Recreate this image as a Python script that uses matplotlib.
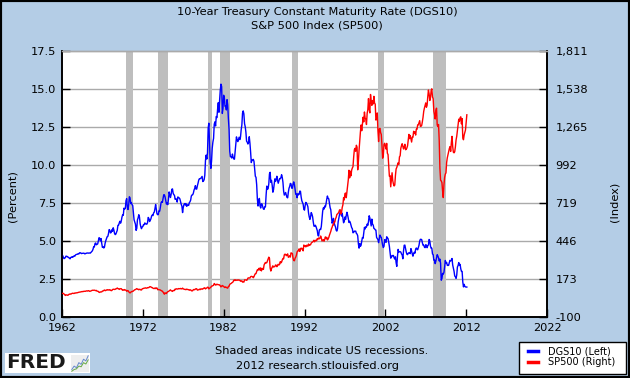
import numpy as np
import matplotlib
matplotlib.use("Agg")
import matplotlib.pyplot as plt
from matplotlib.patches import Rectangle
from matplotlib.lines import Line2D
from matplotlib.ticker import FuncFormatter

# monthly values, Jan 1962 .. Feb 2012
start_year = 1962

dgs10 = [
    4.08, 4.04, 3.93, 3.84, 3.87, 3.91, 4.01, 3.98, 3.98, 3.93, 3.92, 3.86,
    3.83, 3.92, 3.93, 3.97, 3.93, 3.99, 4.02, 4.00, 4.08, 4.11, 4.12, 4.13,
    4.17, 4.15, 4.22, 4.23, 4.20, 4.17, 4.19, 4.19, 4.20, 4.19, 4.15, 4.18,
    4.19, 4.21, 4.21, 4.20, 4.21, 4.21, 4.20, 4.25, 4.29, 4.35, 4.45, 4.62,
    4.61, 4.83, 4.87, 4.75, 4.78, 4.81, 5.02, 5.22, 5.18, 5.01, 5.16, 4.84,
    4.58, 4.63, 4.54, 4.59, 4.85, 5.02, 5.16, 5.28, 5.30, 5.48, 5.75, 5.70,
    5.53, 5.56, 5.74, 5.64, 5.87, 5.72, 5.50, 5.42, 5.46, 5.58, 5.70, 6.03,
    6.04, 6.19, 6.30, 6.17, 6.32, 6.57, 6.72, 6.69, 7.16, 7.10, 7.14, 7.65,
    7.79, 7.24, 7.07, 7.39, 7.91, 7.84, 7.46, 7.53, 7.39, 7.33, 6.84, 6.39,
    6.24, 6.11, 5.70, 5.83, 6.39, 6.52, 6.73, 6.58, 6.14, 5.93, 5.81, 5.93,
    5.95, 6.08, 6.07, 6.19, 6.13, 6.11, 6.11, 6.21, 6.55, 6.48, 6.28, 6.36,
    6.46, 6.64, 6.71, 6.67, 6.85, 6.90, 7.13, 7.40, 7.09, 6.79, 6.73, 6.74,
    6.99, 6.96, 7.21, 7.51, 7.58, 7.54, 7.81, 8.04, 8.04, 7.90, 7.68, 7.43,
    7.50, 7.39, 7.73, 8.23, 8.06, 7.86, 8.06, 8.40, 8.43, 8.14, 8.05, 8.00,
    7.74, 7.79, 7.73, 7.56, 7.90, 7.86, 7.83, 7.77, 7.59, 7.41, 7.29, 6.87,
    7.21, 7.39, 7.46, 7.37, 7.46, 7.28, 7.33, 7.40, 7.34, 7.52, 7.58, 7.69,
    7.96, 8.03, 8.04, 8.15, 8.35, 8.46, 8.64, 8.41, 8.42, 8.64, 8.81, 9.01,
    9.10, 9.10, 9.12, 9.18, 9.25, 8.91, 8.95, 9.03, 9.33, 10.30, 10.65, 10.39,
    10.80, 12.41, 12.75, 11.47, 10.18, 9.78, 10.25, 11.10, 11.51, 11.75, 12.68, 12.84,
    12.57, 13.19, 13.12, 13.68, 14.10, 13.47, 14.28, 14.94, 15.32, 15.15, 13.39, 13.72,
    14.59, 14.43, 13.86, 13.87, 13.62, 14.30, 13.95, 13.06, 12.34, 10.91, 10.55, 10.54,
    10.46, 10.72, 10.51, 10.40, 10.38, 10.85, 11.38, 11.85, 11.65, 11.54, 11.69, 11.83,
    11.67, 11.84, 12.32, 12.63, 13.41, 13.56, 13.36, 12.72, 12.52, 12.16, 11.57, 11.50,
    11.38, 11.51, 11.86, 11.43, 10.85, 10.16, 10.31, 10.33, 10.37, 10.24, 9.78, 9.26,
    9.19, 8.70, 7.78, 7.30, 7.71, 7.80, 7.30, 7.17, 7.45, 7.43, 7.25, 7.11,
    7.08, 7.25, 7.25, 8.02, 8.61, 8.40, 8.45, 8.76, 9.42, 9.52, 8.86, 8.99,
    8.67, 8.21, 8.37, 8.72, 9.09, 8.92, 9.06, 9.26, 8.98, 8.80, 8.96, 9.11,
    9.09, 9.17, 9.36, 9.18, 8.86, 8.28, 8.02, 8.11, 8.19, 8.01, 7.87, 7.84,
    8.21, 8.47, 8.59, 8.79, 8.76, 8.48, 8.47, 8.75, 8.89, 8.72, 8.39, 8.08,
    8.09, 7.85, 8.11, 8.04, 8.07, 8.28, 8.27, 7.90, 7.65, 7.53, 7.42, 7.09,
    7.03, 7.34, 7.54, 7.48, 7.39, 7.26, 6.84, 6.59, 6.42, 6.59, 6.87, 6.77,
    6.60, 6.26, 5.98, 5.97, 6.04, 5.96, 5.81, 5.68, 5.36, 5.33, 5.72, 5.77,
    5.75, 5.97, 6.48, 6.97, 7.18, 7.10, 7.30, 7.24, 7.46, 7.74, 7.96, 7.81,
    7.78, 7.47, 7.20, 7.06, 6.63, 6.17, 6.28, 6.49, 6.20, 6.04, 5.93, 5.71,
    5.65, 5.81, 6.27, 6.51, 6.74, 6.91, 6.87, 6.64, 6.83, 6.53, 6.20, 6.30,
    6.58, 6.42, 6.69, 6.89, 6.71, 6.49, 6.22, 6.30, 6.21, 6.03, 5.88, 5.81,
    5.54, 5.57, 5.65, 5.64, 5.65, 5.50, 5.46, 5.34, 4.81, 4.53, 4.83, 4.65,
    4.72, 5.00, 5.23, 5.18, 5.54, 5.90, 5.79, 5.94, 5.92, 6.11, 6.03, 6.28,
    6.66, 6.52, 6.26, 5.99, 6.44, 6.10, 6.05, 5.83, 5.80, 5.74, 5.72, 5.24,
    5.16, 5.10, 4.89, 5.14, 5.39, 5.28, 5.24, 4.97, 4.73, 4.57, 4.65, 5.09,
    5.04, 4.91, 5.28, 5.21, 5.16, 4.93, 4.65, 4.26, 3.87, 3.94, 4.05, 4.03,
    4.05, 3.90, 3.81, 3.96, 3.57, 3.33, 3.98, 4.45, 4.27, 4.29, 4.30, 4.27,
    4.15, 4.08, 3.83, 4.35, 4.72, 4.73, 4.50, 4.28, 4.13, 4.10, 4.19, 4.23,
    4.22, 4.17, 4.50, 4.34, 4.14, 4.00, 4.18, 4.26, 4.20, 4.46, 4.54, 4.47,
    4.42, 4.57, 4.72, 4.99, 5.11, 5.11, 5.09, 4.88, 4.72, 4.73, 4.60, 4.56,
    4.76, 4.72, 4.56, 4.69, 4.75, 5.10, 5.00, 4.67, 4.52, 4.53, 4.15, 4.10,
    3.74, 3.74, 3.51, 3.68, 3.88, 4.10, 4.01, 3.89, 3.69, 3.81, 3.53, 2.42,
    2.52, 2.87, 2.82, 2.93, 3.29, 3.72, 3.56, 3.59, 3.40, 3.39, 3.40, 3.59,
    3.73, 3.69, 3.73, 3.85, 3.42, 3.20, 3.01, 2.70, 2.65, 2.54, 2.76, 3.29,
    3.39, 3.58, 3.41, 3.46, 3.17, 3.00, 3.00, 2.30, 1.98, 2.15, 2.01, 1.98,
    1.97, 1.97,
]

sp500 = [
    68.8, 69.96, 69.55, 65.24, 59.63, 54.75, 58.23, 59.12, 56.27, 56.52, 62.26, 63.10,
    66.20, 64.29, 66.57, 69.80, 70.80, 69.37, 69.13, 72.50, 71.70, 74.01, 73.23, 75.02,
    77.04, 77.80, 78.98, 79.46, 80.37, 81.69, 83.18, 81.83, 84.18, 84.86, 84.42, 84.75,
    87.56, 87.43, 86.16, 89.11, 88.42, 84.12, 85.25, 87.17, 89.96, 92.42, 91.61, 92.43,
    92.88, 91.22, 89.23, 91.06, 86.13, 84.74, 83.60, 77.10, 76.56, 80.20, 80.45, 80.33,
    86.61, 86.78, 90.20, 94.01, 89.08, 90.64, 94.75, 93.64, 96.71, 93.90, 94.00, 96.47,
    92.24, 89.36, 90.20, 97.59, 98.68, 99.58, 97.74, 98.86, 102.67, 103.41, 108.37, 103.86,
    103.01, 98.13, 101.51, 103.69, 103.46, 97.71, 91.83, 95.51, 93.12, 97.24, 93.81, 92.06,
    85.02, 89.50, 89.63, 81.52, 76.55, 72.72, 78.05, 81.52, 84.21, 83.25, 87.20, 92.15,
    95.88, 96.75, 100.31, 103.95, 99.63, 99.70, 95.58, 99.03, 98.34, 94.23, 93.99, 102.09,
    103.94, 106.57, 107.20, 107.67, 109.53, 107.14, 107.39, 111.09, 110.55, 111.58, 116.67, 118.05,
    116.03, 111.68, 111.52, 106.97, 104.95, 104.26, 108.22, 104.25, 108.43, 108.29, 95.96, 97.55,
    96.57, 96.22, 93.98, 90.31, 87.28, 86.00, 79.31, 72.15, 63.54, 73.90, 69.97, 68.56,
    76.98, 81.59, 83.36, 87.30, 91.15, 95.19, 88.75, 86.88, 83.87, 89.04, 91.24, 90.19,
    100.86, 99.71, 102.77, 101.64, 100.18, 104.28, 103.44, 102.91, 105.24, 102.90, 102.10, 107.46,
    102.03, 99.82, 98.42, 98.44, 96.12, 100.48, 98.85, 96.77, 96.53, 92.34, 94.83, 95.10,
    89.25, 87.04, 89.21, 96.83, 97.24, 95.53, 100.68, 103.29, 102.54, 93.15, 94.70, 96.11,
    99.93, 96.28, 101.59, 101.76, 99.08, 102.91, 103.81, 109.32, 109.32, 101.82, 106.16, 107.94,
    114.16, 113.66, 102.09, 106.29, 111.24, 114.24, 121.67, 122.38, 125.46, 127.47, 140.52, 135.76,
    129.55, 131.27, 136.00, 132.81, 132.59, 131.21, 130.92, 122.79, 116.18, 121.89, 126.35, 122.55,
    120.40, 113.11, 111.96, 116.44, 111.88, 109.61, 107.09, 119.51, 120.42, 133.71, 138.54, 140.64,
    145.30, 148.06, 152.96, 164.42, 162.39, 168.11, 162.56, 164.40, 166.07, 163.55, 166.40, 164.93,
    163.41, 157.06, 159.18, 160.05, 150.55, 153.18, 150.66, 166.68, 166.10, 166.09, 163.58, 167.24,
    179.63, 181.18, 180.66, 179.83, 189.55, 191.85, 190.92, 188.63, 182.08, 189.82, 202.17, 211.28,
    211.78, 226.92, 238.90, 235.52, 247.35, 250.84, 236.12, 252.93, 231.32, 243.98, 249.22, 242.17,
    274.08, 284.20, 291.70, 288.36, 290.10, 304.00, 318.66, 329.80, 321.83, 251.79, 230.30, 247.08,
    257.07, 267.82, 258.89, 261.33, 262.16, 273.50, 272.02, 261.52, 271.91, 278.97, 273.70, 277.72,
    297.47, 288.86, 294.87, 309.64, 320.52, 317.98, 346.08, 351.45, 349.15, 340.36, 345.99, 353.40,
    329.08, 331.89, 339.94, 330.80, 361.23, 358.02, 356.15, 322.56, 306.05, 304.00, 322.22, 330.22,
    343.93, 367.07, 375.22, 375.35, 389.83, 371.16, 387.81, 395.43, 387.86, 392.46, 375.22, 417.09,
    408.79, 412.70, 403.69, 414.95, 415.35, 408.14, 424.21, 414.03, 417.80, 418.68, 431.35, 435.71,
    438.78, 443.38, 451.67, 440.19, 450.19, 450.53, 448.13, 463.56, 458.93, 467.83, 461.79, 466.45,
    481.61, 467.14, 445.77, 450.91, 456.50, 444.27, 458.26, 475.49, 462.69, 472.35, 453.69, 459.27,
    470.42, 487.39, 500.71, 514.71, 533.40, 544.75, 562.06, 561.88, 584.41, 581.50, 605.37, 615.93,
    636.02, 640.43, 645.50, 654.17, 669.12, 670.63, 639.95, 651.99, 687.33, 705.27, 757.02, 740.74,
    786.16, 790.82, 757.12, 801.34, 848.28, 885.14, 954.29, 899.47, 947.28, 914.62, 955.40, 970.43,
    980.28, 1049.34, 1101.75, 1111.75, 1090.82, 1133.84, 1120.67, 957.28, 1017.01, 1098.67, 1163.63, 1229.23,
    1279.64, 1238.33, 1286.37, 1335.18, 1301.84, 1372.71, 1328.72, 1320.41, 1282.71, 1362.93, 1388.91, 1469.25,
    1394.46, 1366.42, 1498.58, 1452.43, 1420.60, 1454.60, 1430.83, 1485.46, 1436.51, 1429.40, 1314.95, 1320.28,
    1366.01, 1239.94, 1160.33, 1249.46, 1255.82, 1224.38, 1211.23, 1133.58, 1040.94, 1059.78, 1139.45, 1148.08,
    1130.20, 1106.73, 1147.39, 1076.92, 1067.14, 989.82, 911.62, 916.07, 835.28, 885.76, 936.31, 879.82,
    855.70, 841.15, 848.18, 916.92, 963.59, 974.50, 990.31, 1008.01, 995.97, 1050.71, 1058.20, 1111.92,
    1131.13, 1144.94, 1126.21, 1107.30, 1120.68, 1140.84, 1101.72, 1104.24, 1114.58, 1130.20, 1173.82, 1211.92,
    1181.27, 1203.60, 1180.59, 1156.85, 1191.50, 1191.33, 1234.18, 1220.33, 1228.81, 1207.01, 1249.48, 1248.29,
    1280.08, 1280.66, 1294.83, 1310.61, 1270.09, 1270.20, 1276.66, 1303.82, 1335.85, 1377.94, 1400.63, 1418.30,
    1438.24, 1406.82, 1420.86, 1482.37, 1530.62, 1503.35, 1455.27, 1473.99, 1526.75, 1539.38, 1481.14, 1468.36,
    1378.55, 1354.63, 1322.70, 1385.59, 1400.38, 1280.00, 1267.38, 1282.83, 1166.36, 968.75, 883.24, 877.25,
    865.88, 805.09, 757.87, 848.81, 902.14, 926.32, 935.48, 1009.62, 1044.08, 1067.19, 1088.63, 1110.10,
    1123.87, 1089.49, 1152.43, 1197.69, 1125.41, 1083.71, 1079.60, 1087.33, 1122.20, 1171.26, 1198.55, 1241.64,
    1282.12, 1321.22, 1304.83, 1331.61, 1338.20, 1287.64, 1325.28, 1185.89, 1173.42, 1207.30, 1226.96, 1243.60,
    1300.41, 1352.68,
]

# NBER recessions (decimal years)
rec_start = [1969.92, 1973.83, 1980.0, 1981.5, 1990.5, 2001.1, 2007.92]
rec_end = [1970.83, 1975.17, 1980.5, 1982.83, 1991.17, 2001.83, 2009.5]

x_ticks = [1962, 1972, 1982, 1992, 2002, 2012, 2022]
left_ticks = [0.0, 2.5, 5.0, 7.5, 10.0, 12.5, 15.0, 17.5]
right_ticks = [-100, 173, 446, 719, 992, 1265, 1538, 1811]

series_names = ["DGS10 (Left)", "SP500 (Right)"]
series_colors = ["#0000FF", "#FF0000"]

bg = "#B4CDE6"
fs = 8.2
W, H = 630, 378

months = np.arange(len(dgs10))
t = start_year + months / 12.0

fig = plt.figure(figsize=(6.3, 3.78), dpi=100, facecolor=bg)
ax = fig.add_axes([62 / W, 1 - 317 / H, (547 - 62) / W, (317 - 51) / H])
ax.set_facecolor("white")

for s, e in zip(rec_start, rec_end):
    ax.axvspan(s, e, color="#BEBEBE", lw=0, zorder=1)

for v in left_ticks[1:-1]:
    ax.axhline(v, color="#AAAAAA", lw=1.0, zorder=0.5)

ax.plot(t, dgs10, color=series_colors[0], lw=1.0, zorder=3)
ax.set_xlim(1962, 2022)
ax.set_ylim(0, 17.5)
ax.set_xticks(x_ticks)
ax.set_yticks(left_ticks)
ax.set_yticklabels([f"{v:.1f}" for v in left_ticks])

ax2 = ax.twinx()
ax2.plot(t[:len(sp500)], sp500, color=series_colors[1], lw=1.0, zorder=3)
ax2.set_ylim(-100, 1811)
ax2.set_yticks(right_ticks)
ax2.yaxis.set_major_formatter(FuncFormatter(lambda v, p: f"{int(v):,}"))

for a in (ax, ax2):
    a.tick_params(direction="in", length=6, width=1, colors="black",
                  labelsize=fs, pad=4)
    for side in ("left", "right", "bottom"):
        a.spines[side].set_color("black")
        a.spines[side].set_linewidth(1.2)
    a.spines["top"].set_color("#AAAAAA")
    a.spines["top"].set_linewidth(1.0)
ax.tick_params(axis="x", pad=4)
ax2.tick_params(axis="y", pad=6)

fig.text(0.503, 1 - 12 / H, "10-Year Treasury Constant Maturity Rate (DGS10)",
         ha="center", va="center", fontsize=fs)
fig.text(0.503, 1 - 25 / H, "S&P 500 Index (SP500)",
         ha="center", va="center", fontsize=fs)
fig.text(13 / W, 1 - 196 / H, "(Percent)", rotation=90,
         ha="center", va="center", fontsize=fs)
fig.text(615 / W, 1 - 202 / H, "(Index)", rotation=90,
         ha="center", va="center", fontsize=fs)
fig.text(322 / W, 1 - 351 / H, "Shaded areas indicate US recessions.",
         ha="center", va="center", fontsize=fs)
fig.text(318 / W, 1 - 366 / H, "2012 research.stlouisfed.org",
         ha="center", va="center", fontsize=fs)

# FRED logo
fig.add_artist(Rectangle((5 / W, 5 / H), 85 / W, 20 / H,
                         transform=fig.transFigure, facecolor="white",
                         edgecolor="none", zorder=-1))
fig.text(6 / W, 1 - 363 / H, "FRED", ha="left", va="center",
         fontsize=14.5, fontweight="heavy", color="#1A1A1A")
icon = fig.add_axes([71 / W, 6 / H, 18 / W, 17 / H])
icon.set_facecolor("#EEEEEE")
icon_blue = [1, 2, 1.5, 3, 2.5, 4, 3.5, 5]
icon_green = [0.5, 1, 1.2, 2, 1.8, 3, 2.6, 3.8]
icon.plot(icon_blue, color="#6688CC", lw=0.7)
icon.plot(icon_green, color="#66AA44", lw=0.7)
icon.set_xticks([])
icon.set_yticks([])
for sp in icon.spines.values():
    sp.set_visible(False)

# legend box drawn by hand to match the wide side padding
fig.add_artist(Rectangle((519 / W, 1 - 374 / H), (626 - 519) / W, 32 / H,
                         transform=fig.transFigure, facecolor="white",
                         edgecolor="black", lw=1.0))
for i, (name, col) in enumerate(zip(series_names, series_colors)):
    yy = 1 - (351 + 11 * i) / H
    fig.add_artist(Line2D([528 / W, 538 / W], [yy, yy], color=col, lw=2.5,
                          transform=fig.transFigure))
    fig.text(548 / W, yy, name, ha="left", va="center", fontsize=7)

fig.add_artist(Rectangle((0, 0), 1, 1, transform=fig.transFigure,
                         fill=False, edgecolor="black", lw=3))

fig.savefig("out.png", dpi=100, facecolor=bg)
